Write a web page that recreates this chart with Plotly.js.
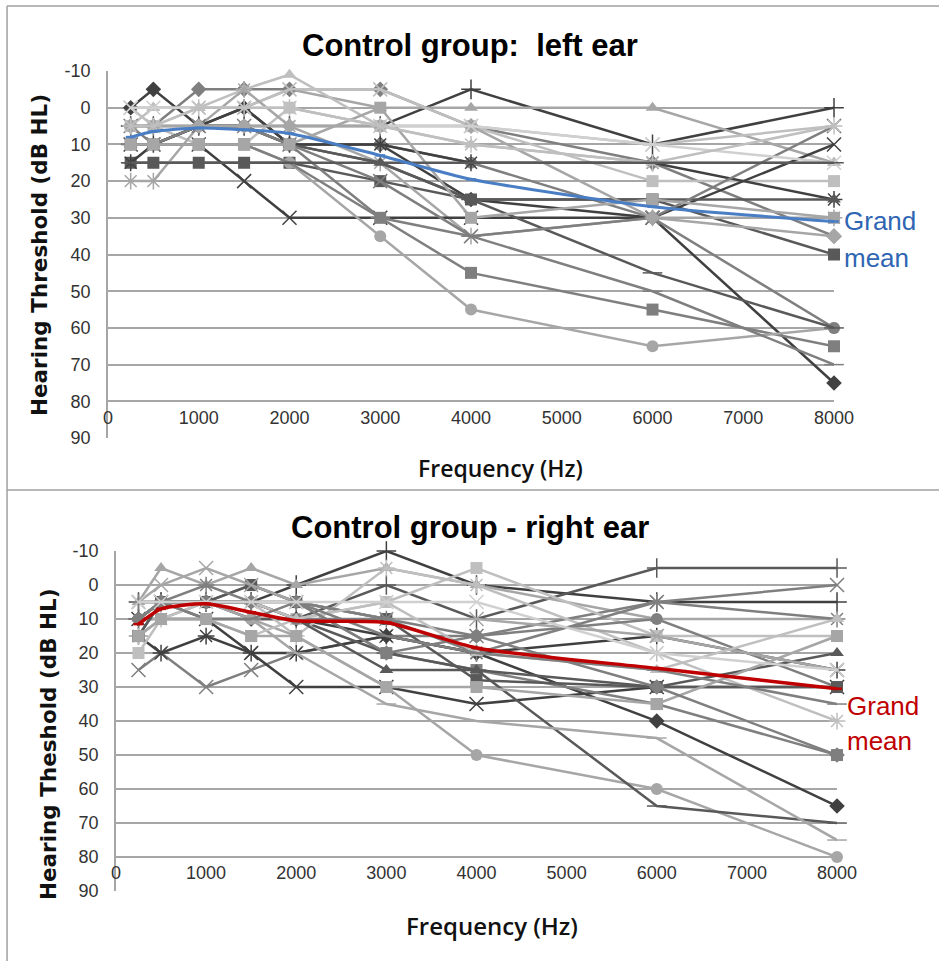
<!DOCTYPE html>
<html>
<head>
<meta charset="utf-8">
<script src="https://cdn.plot.ly/plotly-3.0.1.min.js"></script>
<style>html,body{margin:0;padding:0;background:#fff;}#chart{width:939px;height:961px;}</style>
</head>
<body>
<div id="chart"></div>
<script>
// Frequencies (Hz)
const freqs = [250, 500, 1000, 1500, 2000, 3000, 4000, 6000, 8000];
const xTicks = [0, 1000, 2000, 3000, 4000, 5000, 6000, 7000, 8000];
const yTicks = [-10, 0, 10, 20, 30, 40, 50, 60, 70, 80, 90];

// Grand means (dB HL)
const leftMean  = [8, 6.5, 5.5, 6, 7, 13, 19.5, 27, 31];
const rightMean = [11.5, 7, 5.5, 8, 10.5, 11, 18.5, 24.5, 30.5];

// Left ear, individual subjects (dB HL)
const L01 = [5, 5, 5, 5, 5, 5, -5, 10, 0];
const L02 = [0, 0, 0, 0, -5, 0, 0, 0, 15];
const L03 = [0, -5, 5, 0, 10, 10, 25, 30, 75];
const L04 = [5, 5, -5, -5, -5, -5, 5, 15, 35];
const L05 = [0, 5, 0, 0, -5, -5, 5, 10, 5];
const L06 = [5, 0, 0, -5, -9, 5, 10, 15, 15];
const L07 = [5, 5, 10, 10, 0, 5, 5, 20, 20];
const L08 = [15, 15, 15, 15, 15, 20, 25, 25, 40];
const L09 = [20, 20, 5, -5, 5, 15, 35, 30, 30];
const L10 = [10, 10, 10, 20, 30, 30, 30, 30, 10];
const L11 = [10, 10, 10, 10, 10, 30, 45, 55, 65];
const L12 = [10, 10, 10, 10, 15, 35, 55, 65, 60];
const L13 = [10, 10, 5, 5, 10, 10, 15, 30, 60];
const L14 = [10, 10, 5, 5, 10, 15, 25, 45, 60];
const L15 = [15, 10, 5, 0, 10, 10, 15, 15, 25];
const L16 = [10, 10, 5, 5, 10, 15, 25, 25, 25];
const L17 = [5, 10, 5, 5, 10, 20, 35, 30, 5];
const L18 = [10, 10, 10, 10, 15, 30, 35, 50, 70];
const L19 = [10, 10, 10, 10, 10, 0, 30, 25, 30];
const L20 = [5, 5, 5, 5, 5, 5, 5, 30, 35];
const L21 = [0, 0, 0, 0, 0, 5, 5, 10, 15];
const L22 = [5, 5, 0, 0, 0, 5, 10, 15, 5];
const L23 = [15, 15, 15, 15, 15, 15, 15, 15, 15];

// Right ear, individual subjects (dB HL)
const R01 = [5, 5, 5, 5, 0, -10, 0, 5, 5];
const R02 = [10, 5, 5, 5, 10, 0, 10, -5, -5];
const R03 = [5, -5, 0, -5, 0, -5, 0, 10, 10];
const R04 = [25, 20, 30, 25, 20, 15, 15, 5, 0];
const R05 = [15, 20, 15, 20, 20, 15, 20, 15, 25];
const R06 = [10, 5, 10, 20, 30, 30, 35, 30, 30];
const R07 = [10, 5, 5, 10, 10, 15, 20, 40, 65];
const R08 = [15, 5, 5, 0, 5, 20, 25, 35, 50];
const R09 = [10, 10, 5, 10, 15, 30, 50, 60, 80];
const R10 = [10, 10, 10, 10, 10, 20, 25, 65, 70];
const R11 = [15, 10, 10, 10, 20, 35, 40, 45, 75];
const R12 = [20, 10, 10, 15, 10, 5, -5, 15, 15];
const R13 = [15, 10, 5, 5, 15, -5, 0, 20, 40];
const R14 = [10, 5, 5, 5, 10, 25, 25, 30, 20];
const R15 = [10, 5, 5, 5, 10, 10, 15, 10, 30];
const R16 = [15, 5, 5, 0, 5, 10, 28, 30, 30];
const R17 = [5, 0, -5, 0, 5, 10, 10, 15, 25];
const R18 = [5, 5, 0, 5, 5, 10, 20, 5, 10];
const R19 = [10, 5, 5, 5, 10, 5, 20, 25, 10];
const R20 = [10, 5, 10, 10, 5, 15, 20, 25, 35];
const R21 = [15, 10, 10, 15, 15, 30, 30, 35, 15];
const R22 = [10, 5, 5, 5, 5, 20, 15, 30, 50];
const R23 = [5, 5, 5, 5, 5, 5, 5, 20, 25];

const leftSubjects  = [L01,L02,L03,L04,L05,L06,L07,L08,L09,L10,L11,L12,L13,L14,L15,L16,L17,L18,L19,L20,L21,L22,L23];
const rightSubjects = [R01,R02,R03,R04,R05,R06,R07,R08,R09,R10,R11,R12,R13,R14,R15,R16,R17,R18,R19,R20,R21,R22,R23];

// Styles (marker symbol, grey shade)
const leftStyles = [
  ['cross-thin-open','#404040'],['triangle-up','#a6a6a6'],['diamond','#404040'],['diamond','#7f7f7f'],
  ['x-thin-open','#bfbfbf'],['triangle-up','#bfbfbf'],['square','#bfbfbf'],['square','#595959'],
  ['asterisk-open','#a6a6a6'],['x-thin-open','#404040'],['square','#7f7f7f'],['circle','#a6a6a6'],
  ['circle','#7f7f7f'],['line-ew-open','#595959'],['asterisk-open','#404040'],['triangle-up','#595959'],
  ['x-thin-open','#7f7f7f'],['line-ew-open','#7f7f7f'],['square','#a6a6a6'],['diamond','#a6a6a6'],
  ['x-thin-open','#d0d0d0'],['asterisk-open','#bfbfbf'],['line-ew-open','#595959']
];
const rightStyles = [
  ['cross-thin-open','#404040'],['cross-thin-open','#595959'],['triangle-up','#a6a6a6'],['x-thin-open','#7f7f7f'],
  ['asterisk-open','#404040'],['x-thin-open','#404040'],['diamond','#404040'],['square','#7f7f7f'],
  ['circle','#a6a6a6'],['line-ew-open','#595959'],['line-ew-open','#a6a6a6'],['square','#bfbfbf'],
  ['asterisk-open','#bfbfbf'],['triangle-up','#595959'],['circle','#7f7f7f'],['square','#595959'],
  ['x-thin-open','#a6a6a6'],['asterisk-open','#7f7f7f'],['triangle-up','#bfbfbf'],['line-ew-open','#7f7f7f'],
  ['square','#a6a6a6'],['diamond','#7f7f7f'],['x-thin-open','#d0d0d0']
];

function subjTrace(vals, style, xa, ya) {
  const open = style[0].indexOf('open') >= 0;
  return {
    type: 'scatter', mode: 'lines+markers', x: freqs, y: vals, xaxis: xa, yaxis: ya,
    cliponaxis: false, showlegend: false, hoverinfo: 'skip',
    line: {color: style[1], width: 2.5},
    marker: {symbol: style[0], color: style[1], size: open ? 14 : 12,
             line: {color: style[1], width: open ? 1.5 : 0}}
  };
}

const traces = [];
leftSubjects.forEach((v, i) => traces.push(subjTrace(v, leftStyles[i], 'x', 'y')));
traces.push({type:'scatter', mode:'lines+markers', x: freqs, y: leftMean, xaxis:'x', yaxis:'y',
  cliponaxis:false, showlegend:false, line:{color:'#4a7ec4', width:3, shape:'spline', smoothing:0.6},
  marker:{symbol:'line-ew-open', size:7, color:'#4a7ec4', line:{color:'#4a7ec4', width:2.5}}});
rightSubjects.forEach((v, i) => traces.push(subjTrace(v, rightStyles[i], 'x2', 'y2')));
traces.push({type:'scatter', mode:'lines+markers', x: freqs, y: rightMean, xaxis:'x2', yaxis:'y2',
  cliponaxis:false, showlegend:false, line:{color:'#c00000', width:3.5, shape:'spline', smoothing:0.6},
  marker:{symbol:'line-ew-open', size:7, color:'#c00000', line:{color:'#c00000', width:2.5}}});

const tickFont = {family: '"Liberation Sans Narrow", "Liberation Sans", Arial, sans-serif', size: 18, color: '#333'};
const gridC = '#a6a6a6';

function xAxis(domain, pos) {
  return {
    domain: domain, anchor: 'free', position: pos,
    range: [0, 8000], tickvals: xTicks, ticktext: xTicks.map(String), tickfont: tickFont,
    showgrid: false, zeroline: false, showline: true, linecolor: gridC, linewidth: 1.5, ticks: ''
  };
}
function yAxis(domain, xanchorName) {
  return {
    domain: domain, anchor: xanchorName, range: [90, -10], tickvals: yTicks, ticktext: yTicks.map(String),
    tickfont: tickFont, showgrid: true, gridcolor: gridC, gridwidth: 1.5, zeroline: false,
    showline: true, linecolor: gridC, linewidth: 1.5, ticks: '', ticklabelstandoff: 12
  };
}

const yTitleFont = {family: '"DejaVu Sans", sans-serif', size: 21.5, color: '#111', weight: 'bold'};
const xTitleFont = s => ({family: '"Open Sans", "DejaVu Sans", sans-serif', size: s, color: '#111', weight: 600});
const chartTitleFont = {family: '"Liberation Sans Narrow", "Liberation Sans", sans-serif', size: 31, color: '#000', weight: 'bold'};
const meanFont = c => ({family: '"Liberation Sans Narrow", sans-serif', size: 26, color: c});

const topY = [0.5442, 0.9261], botY = [0.0728, 0.4266];
const layout = {
  width: 939, height: 961, margin: {l: 0, r: 0, t: 0, b: 0},
  paper_bgcolor: '#fff', plot_bgcolor: 'rgba(0,0,0,0)', showlegend: false,
  xaxis: xAxis([0.1150, 0.8882], topY[0] + 0.1 * (topY[1] - topY[0])),
  yaxis: yAxis(topY, 'x'),
  xaxis2: xAxis([0.1235, 0.8914], botY[0] + 0.1 * (botY[1] - botY[0])),
  yaxis2: yAxis(botY, 'x2'),
  annotations: [
    {text: 'Control group:  left ear', xref: 'paper', yref: 'paper', x: 0.5, y: 0.953, showarrow: false,
     xanchor: 'center', yanchor: 'middle', font: chartTitleFont},
    {text: 'Control group - right ear', xref: 'paper', yref: 'paper', x: 0.5, y: 0.4516, showarrow: false,
     xanchor: 'center', yanchor: 'middle', font: chartTitleFont},
    {text: 'Hearing Threshold (dB HL)', xref: 'paper', yref: 'paper', x: 40/939, y: (961-255)/961, textangle: -90,
     showarrow: false, xanchor: 'center', yanchor: 'middle', font: yTitleFont},
    {text: 'Hearing Theshold (dB HL)', xref: 'paper', yref: 'paper', x: 48/939, y: (961-744)/961, textangle: -90,
     showarrow: false, xanchor: 'center', yanchor: 'middle', font: yTitleFont},
    {text: 'Frequency (Hz)', xref: 'paper', yref: 'paper', x: 500/939, y: (961-468)/961,
     showarrow: false, xanchor: 'center', yanchor: 'middle', font: xTitleFont(23)},
    {text: 'Frequency (Hz)', xref: 'paper', yref: 'paper', x: 492/939, y: (961-925)/961,
     showarrow: false, xanchor: 'center', yanchor: 'middle', font: xTitleFont(24)},
    {text: 'Grand', xref: 'x', yref: 'y', x: 8000, y: 31, xanchor: 'left', xshift: 8, showarrow: false, font: meanFont('#2f66b3')},
    {text: 'mean', xref: 'x', yref: 'y', x: 8000, y: 41, xanchor: 'left', xshift: 8, showarrow: false, font: meanFont('#2f66b3')},
    {text: 'Grand', xref: 'x2', yref: 'y2', x: 8000, y: 35.5, xanchor: 'left', xshift: 8, showarrow: false, font: meanFont('#c00000')},
    {text: 'mean', xref: 'x2', yref: 'y2', x: 8000, y: 46, xanchor: 'left', xshift: 8, showarrow: false, font: meanFont('#c00000')}
  ],
  shapes: [
    {type: 'line', xref: 'paper', yref: 'paper', x0: 0.0075, x1: 1, y0: 1 - 6/961, y1: 1 - 6/961, line: {color: '#a0a0a0', width: 1.5}},
    {type: 'line', xref: 'paper', yref: 'paper', x0: 0.0075, x1: 0.0075, y0: 0, y1: 1 - 6/961, line: {color: '#a0a0a0', width: 1.5}},
    {type: 'line', xref: 'paper', yref: 'paper', x0: 0.0075, x1: 1, y0: 1 - 490/961, y1: 1 - 490/961, line: {color: '#a0a0a0', width: 1.5}}
  ]
};

Plotly.newPlot('chart', traces, layout, {displayModeBar: false, responsive: false});
</script>
</body>
</html>
